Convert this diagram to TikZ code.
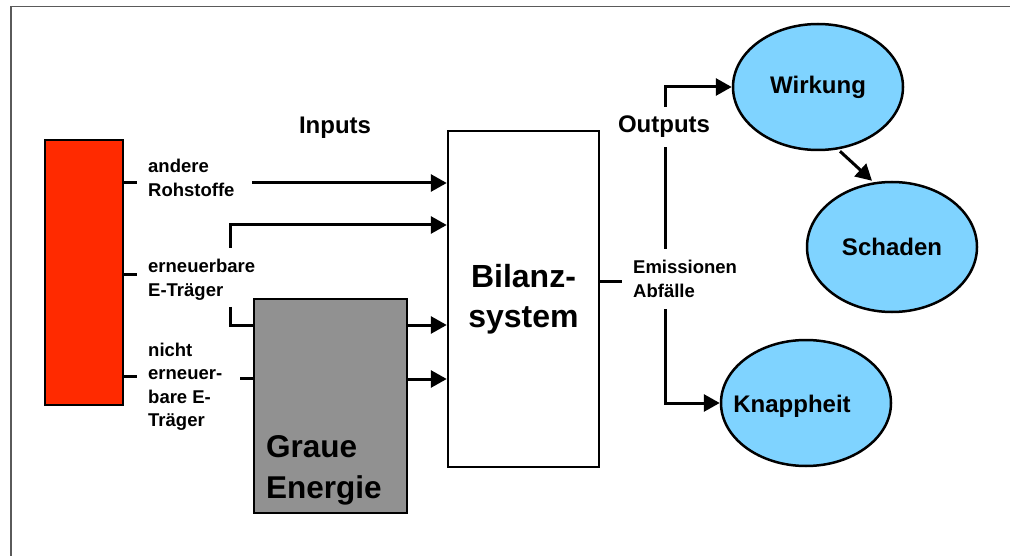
\documentclass[tikz,border=0pt]{standalone}
\usepackage{fontspec}
\setmainfont{Liberation Sans}
\usetikzlibrary{arrows.meta,backgrounds,shapes.geometric}
\definecolor{Signal}{HTML}{FF2A00}
\definecolor{Sky}{HTML}{7FD3FF}
\definecolor{Ash}{HTML}{919191}
\definecolor{Frame}{HTML}{5A5A5A}

\begin{document}
\begin{tikzpicture}[x=1pt,y=-1pt,
      every node/.style={font=\bfseries},
      box/.style={draw,line width=2.5pt,inner sep=0pt},
      oval/.style={draw,ellipse,fill=Sky,line width=2.5pt,inner sep=0pt,
                   minimum width=170pt,minimum height=126pt,
                   font=\fontsize{24}{28}\selectfont\bfseries},
      tag/.style={align=left,anchor=west,inner sep=0pt,
                  font=\fontsize{18.5}{23.5}\selectfont\bfseries},
      flow/.style={line width=3pt},
      >={Triangle[length=16pt,width=17pt]}
    ]
      \useasboundingbox (0,0) rectangle (1010,556);
      \draw[Frame,line width=1.5pt] (1010,6.5) -- (11,6.5) -- (11,556);

      \node[box,fill=Signal,minimum width=78pt,minimum height=265pt] (rot)
            at (84,272.5) {};
      \node[box,fill=white,minimum width=151pt,minimum height=336pt,align=center,
            font=\fontsize{32}{40}\selectfont\bfseries] (bilanz)
            at (523.5,299) {Bilanz-\\system};
      \node[box,fill=Ash,minimum width=153pt,minimum height=214pt] (graue)
            at (330.5,406) {};
      \node[align=left,anchor=south west,inner sep=0pt,
            font=\fontsize{31.5}{41}\selectfont\bfseries] (graueTxt)
            at (266,505) {Graue\\Energie};

      \node[tag] (roh) at (148,178) {andere\\Rohstoffe};
      \node[tag] (ern) at (148,280) {erneuerbare\\E-Träger};
      \node[tag] (nern) at (148,387) {nicht\\erneuer-\\bare E-\\Träger};

      \node[font=\fontsize{24}{28}\selectfont\bfseries] (inputs) at (335,128) {Inputs};
      \node[fill=white,inner xsep=4pt,inner ysep=9pt,
            font=\fontsize{24}{28}\selectfont\bfseries]
            (outputs) at (664,127) {Outputs};
      \node[tag,fill=white,inner xsep=2pt,inner ysep=11pt] (emis)
            at (631,279) {Emissionen\\Abfälle};

      \node[oval] (wirk) at (818,87) {Wirkung};
      \node[oval,minimum height=130pt] (schad) at (892,247) {Schaden};
      \node[oval,label={[name=knappTxt,xshift=-14pt,yshift=-3pt,
            font=\fontsize{24}{28}\selectfont\bfseries]center:Knappheit}] (knapp)
            at (806,403) {};

      \coordinate (split) at (665,282);

      \begin{scope}[on background layer]
        \draw[flow] (rot.east |- 0,183) -- (137,183);
        \draw[flow] (rot.east |- 0,275) -- (137,275);
        \draw[flow] (rot.east |- 0,376) -- (137,376);

        \draw[flow,->] (252,183) -- (bilanz.west |- 0,183);
        \draw[flow,->] (230,248) |- (bilanz.west |- 0,225);
        \draw[flow] (230,307) |- (graue.west |- 0,325);
        \draw[flow,->] (graue.east |- 0,325) -- (bilanz.west |- 0,325);
        \draw[flow] (240,378) -- (graue.west |- 0,378);
        \draw[flow,->] (graue.east |- 0,379) -- (bilanz.west |- 0,379);

        \draw[flow] (bilanz.east |- split) -- (622,282);
        \draw[flow,->] (split) |- (wirk.west);
        \draw[flow,->] (split) |- (knapp.west);
      \end{scope}

      \draw[flow,->] ([xshift=22pt]wirk.south) -- ([xshift=-20pt]schad.north);
    \end{tikzpicture}
\end{document}
